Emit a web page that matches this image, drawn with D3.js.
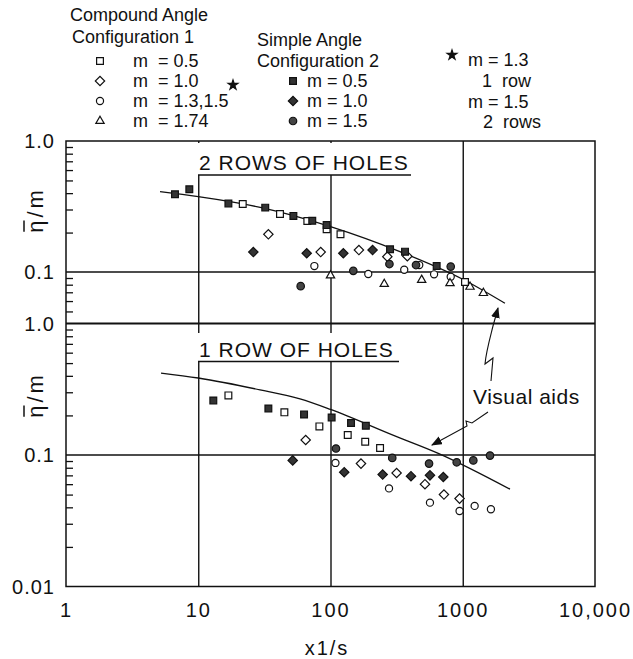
<!DOCTYPE html>
<html>
<head>
<meta charset="utf-8">
<script src="https://cdn.jsdelivr.net/npm/d3@7"></script>
<style>
  body { margin: 0; background: #fff; }
  svg text { font-family: "Liberation Sans", Arial, sans-serif; fill: #111; }
</style>
</head>
<body>
<div id="chart"></div>
<script>
// x axis
var xTicks = [1, 10, 100, 1000, 10000];
var xTickLabels = ["1", "10", "100", "1000", "10,000"];

// 2 rows of holes (upper panel)  [x1/s, eta/m]
var top_c1_m05 = [[21.7,0.330],[41.5,0.277],[66.8,0.245],[93.5,0.212],[119,0.194],[1040,0.084]];
var top_c1_m10 = [[33.9,0.194],[84.3,0.142],[164,0.147],[269,0.131],[381,0.132]];
var top_c1_m13 = [[75.5,0.111],[193,0.0966],[361,0.104],[469,0.113],[607,0.096],[811,0.092]];
var top_c1_m174 = [[100,0.094],[255,0.081],[489,0.087],[801,0.082],[1135,0.077],[1432,0.069]];
var top_c2_m05 = [[6.67,0.392],[8.56,0.428],[16.9,0.334],[32.1,0.310],[52.4,0.268],[72.8,0.246],[93.5,0.228],[282,0.149],[366,0.143],[635,0.111]];
var top_c2_m10 = [[26.1,0.142],[66.1,0.139],[125,0.139],[208,0.147]];
var top_c2_m15 = [[59.5,0.078],[148.7,0.102],[279,0.115],[443,0.113],[811,0.110]];
var top_aid = [[5.14,0.41],[10,0.376],[30,0.31],[100,0.222],[335,0.143],[1000,0.088],[2085,0.0577]];

// 1 row of holes (lower panel)
var bot_c1_m05 = [[16.9,0.284],[44.8,0.211],[82.4,0.165],[135,0.142],[183,0.126],[237,0.113]];
var bot_c1_m10 = [[64.9,0.130],[170,0.086],[316,0.073],[518,0.060],[721,0.050],[946,0.0466]];
var bot_c1_m13 = [[109,0.087],[277,0.0557],[565,0.0434],[946,0.0375],[1230,0.041],[1633,0.0387]];
var bot_c2_m05 = [[13.0,0.260],[33.9,0.226],[63.1,0.203],[102,0.193],[143,0.175],[185,0.167]];
var bot_c2_m10 = [[51.8,0.091],[127,0.074],[248,0.071],[406,0.069],[565,0.070],[713,0.068]];
var bot_c2_m15 = [[110,0.112],[293,0.095],[556,0.086],[900,0.088],[1202,0.091],[1607,0.099]];
var bot_aid = [[5.23,0.42],[10,0.385],[29.3,0.313],[58.8,0.267],[100,0.222],[300,0.141],[653,0.103],[2276,0.055]];

drawChart();

function drawChart() {
  var width = 633, height = 659;
  var pLeft = 66, pRight = 595, pTop = 141, pMid = 323.5, pBottom = 586.5;

  var svg = d3.select("#chart").append("svg")
      .attr("width", width)
      .attr("height", height);

  var x = d3.scaleLog().domain([1, 10000]).range([pLeft, pRight]);
  var yTop = d3.scaleLog().domain([0.1, 1]).range([272, pTop]);
  var yBot = d3.scaleLog().domain([0.01, 1]).range([pBottom, pMid]);

  //
  // symbols
  //
  var markers = {
    openSquare:   { type: d3.symbolSquare, size: 46, fill: "#fff", rot: 0 },
    openDiamond:  { type: d3.symbolSquare, size: 44, fill: "#fff", rot: 45 },
    openCircle:   { type: d3.symbolCircle, size: 40, fill: "#fff", rot: 0 },
    openTriangle: { type: d3.symbolTriangle, size: 30, fill: "#fff", rot: 0 },
    fillSquare:   { type: d3.symbolSquare, size: 46, fill: "#333", rot: 0 },
    fillDiamond:  { type: d3.symbolSquare, size: 44, fill: "#333", rot: 45 },
    fillCircle:   { type: d3.symbolCircle, size: 44, fill: "#444", rot: 0 },
    star:         { type: d3.symbolStar, size: 30, fill: "#111", rot: 0 }
  };

  function drawMarker(g, kind, cx, cy) {
    var m = markers[kind];
    g.append("path")
      .attr("d", d3.symbol().type(m.type).size(m.size)())
      .attr("transform", "translate(" + cx + "," + cy + ") rotate(" + m.rot + ")")
      .attr("fill", m.fill)
      .attr("stroke", "#111")
      .attr("stroke-width", 1.2);
  }

  //
  // grid, border, ticks
  //
  var grid = svg.append("g");

  // vertical grid lines through both panels
  grid.append("g")
    .attr("transform", "translate(0," + pBottom + ")")
    .call(d3.axisBottom(x).tickValues([10, 100, 1000]).tickSize(-(pBottom - pTop)).tickFormat(""))
    .call(function(g){ g.select(".domain").remove(); })
    .selectAll("line").attr("stroke", "#111").attr("stroke-width", 1.4);

  // horizontal 0.1 lines
  [[yTop, 0.1], [yBot, 0.1]].forEach(function(p) {
    grid.append("line")
      .attr("x1", pLeft).attr("x2", pRight)
      .attr("y1", p[0](p[1])).attr("y2", p[0](p[1]))
      .attr("stroke", "#111").attr("stroke-width", 1.4);
  });

  // border and panel divider
  grid.append("rect")
    .attr("x", pLeft).attr("y", pTop)
    .attr("width", pRight - pLeft).attr("height", pBottom - pTop)
    .attr("fill", "none").attr("stroke", "#111").attr("stroke-width", 1.5);
  grid.append("line")
    .attr("x1", pLeft).attr("x2", pRight).attr("y1", pMid).attr("y2", pMid)
    .attr("stroke", "#111").attr("stroke-width", 2);

  // minor ticks on the left edge, pointing inward
  var topMinor = [0.2,0.3,0.4,0.5,0.6,0.7,0.8,0.9,0.05,0.06,0.07,0.08,0.09];
  var botMinor = [0.2,0.3,0.4,0.5,0.6,0.7,0.8,0.9,0.02,0.03,0.04,0.05,0.06,0.07,0.08,0.09];
  [[yTop, topMinor], [yBot, botMinor]].forEach(function(p) {
    svg.append("g")
      .attr("transform", "translate(" + pLeft + ",0)")
      .call(d3.axisRight(p[0]).tickValues(p[1]).tickSize(7).tickFormat(""))
      .call(function(g){ g.select(".domain").remove(); })
      .selectAll("line").attr("stroke", "#111").attr("stroke-width", 1.3);
  });

  // y tick labels
  var yLab = svg.append("g").attr("font-size", 20).attr("text-anchor", "end");
  [[yTop, 1, "1.0"], [yTop, 0.1, "0.1"], [yBot, 1, "1.0"], [yBot, 0.1, "0.1"], [yBot, 0.01, "0.01"]].forEach(function(p) {
    yLab.append("text")
      .attr("x", 55).attr("y", p[0](p[1]))
      .attr("dy", "0.36em")
      .attr("letter-spacing", 1)
      .text(p[2]);
  });

  // x tick labels
  svg.append("g")
    .attr("transform", "translate(0," + pBottom + ")")
    .call(d3.axisBottom(x).tickValues(xTicks).tickSize(0).tickPadding(16)
          .tickFormat(function(d, i){ return xTickLabels[i]; }))
    .call(function(g){ g.select(".domain").remove(); })
    .selectAll("text")
    .attr("font-family", "Liberation Sans, Arial, sans-serif")
    .attr("font-size", 20)
    .attr("letter-spacing", 2)
    .attr("fill", "#111");

  // axis titles
  svg.append("text")
    .attr("x", 327).attr("y", 655)
    .attr("font-size", 20).attr("text-anchor", "middle")
    .attr("letter-spacing", 2)
    .text("x1/s");

  // eta-bar / m, rotated, with the bar drawn over the eta
  [210, 395].forEach(function(cy) {
    var g = svg.append("g").attr("transform", "translate(43," + cy + ") rotate(-90)");
    var t = g.append("text")
      .attr("font-size", 22).attr("text-anchor", "middle")
      .attr("letter-spacing", 3)
      .text("\u03B7/m");
    var ext = t.node().getExtentOfChar(0);
    g.append("line")
      .attr("x1", ext.x + 1).attr("x2", ext.x + ext.width - 3)
      .attr("y1", -19).attr("y2", -19)
      .attr("stroke", "#111").attr("stroke-width", 1.5);
  });

  //
  // panel titles with white background
  //
  function panelTitle(label, x0, yTopEdge, yLine, x1) {
    svg.append("rect")
      .attr("x", x0).attr("y", yTopEdge)
      .attr("width", x1 - x0).attr("height", yLine - yTopEdge)
      .attr("fill", "#fff");
    svg.append("text")
      .attr("x", x0 + 1).attr("y", yLine - 5)
      .attr("font-size", 21).attr("letter-spacing", 1)
      .text(label);
    svg.append("line")
      .attr("x1", x0).attr("x2", x1).attr("y1", yLine).attr("y2", yLine)
      .attr("stroke", "#111").attr("stroke-width", 1.4);
  }
  panelTitle("2 ROWS OF HOLES", 198, 143, 175, 411);
  panelTitle("1 ROW OF HOLES", 198, 333, 361.5, 399);

  //
  // visual aid curves
  //
  var plot = svg.append("g");
  [[top_aid, yTop], [bot_aid, yBot]].forEach(function(p) {
    var line = d3.line()
      .x(function(d){ return x(d[0]); })
      .y(function(d){ return p[1](d[1]); })
      .curve(d3.curveMonotoneX);
    plot.append("path")
      .attr("d", line(p[0]))
      .attr("fill", "none").attr("stroke", "#111").attr("stroke-width", 1.3);
  });

  //
  // data points
  //
  var series = [
    [top_c2_m10, "fillDiamond", yTop], [top_c1_m10, "openDiamond", yTop],
    [top_c1_m13, "openCircle", yTop], [top_c1_m174, "openTriangle", yTop],
    [top_c2_m15, "fillCircle", yTop],
    [top_c1_m05, "openSquare", yTop], [top_c2_m05, "fillSquare", yTop],
    [bot_c2_m10, "fillDiamond", yBot], [bot_c1_m10, "openDiamond", yBot],
    [bot_c1_m13, "openCircle", yBot], [bot_c2_m15, "fillCircle", yBot],
    [bot_c1_m05, "openSquare", yBot], [bot_c2_m05, "fillSquare", yBot]
  ];
  series.forEach(function(s) {
    s[0].forEach(function(d) {
      drawMarker(plot, s[1], x(d[0]), s[2](d[1]));
    });
  });

  //
  // "Visual aids" annotation
  //
  svg.append("text")
    .attr("x", 473).attr("y", 404)
    .attr("font-size", 21).attr("letter-spacing", 0.5)
    .text("Visual aids");

  svg.append("defs").append("marker")
    .attr("id", "arrow")
    .attr("markerWidth", 10).attr("markerHeight", 8)
    .attr("refX", 9).attr("refY", 4)
    .attr("orient", "auto")
    .append("path")
    .attr("d", "M0,0 L10,4 L0,8 Z")
    .attr("fill", "#111");

  svg.append("path")
    .attr("d", "M491,381 L493,358 L485,364 C486,352 490,338 493,326 L498,308")
    .attr("fill", "none").attr("stroke", "#111").attr("stroke-width", 1.1)
    .attr("marker-end", "url(#arrow)");
  svg.append("path")
    .attr("d", "M488,412 L472,423 L466,421 L467,426 L432,445")
    .attr("fill", "none").attr("stroke", "#111").attr("stroke-width", 1.1)
    .attr("marker-end", "url(#arrow)");

  //
  // legend
  //
  var leg = svg.append("g").attr("font-size", 18);
  function legText(str, tx, ty) {
    leg.append("text").attr("x", tx).attr("y", ty).attr("dy", "0.36em")
      .style("white-space", "pre").text(str);
  }
  legText("Compound Angle", 70, 15);
  legText("Configuration 1", 72, 37);
  var col1 = [["openSquare", "m  = 0.5"], ["openDiamond", "m  = 1.0"],
              ["openCircle", "m  = 1.3,1.5"], ["openTriangle", "m  = 1.74"]];
  col1.forEach(function(r, i) {
    drawMarker(leg, r[0], 100, 61 + i * 20);
    legText(r[1], 133, 61 + i * 20);
  });
  drawMarker(leg, "star", 233, 85);

  legText("Simple Angle", 257, 40);
  legText("Configuration 2", 257, 61);
  var col2 = [["fillSquare", "m = 0.5"], ["fillDiamond", "m = 1.0"], ["fillCircle", "m = 1.5"]];
  col2.forEach(function(r, i) {
    drawMarker(leg, r[0], 293, 81 + i * 20);
    legText(r[1], 307, 81 + i * 20);
  });

  drawMarker(leg, "star", 452, 55);
  legText("m = 1.3", 468, 60);
  legText("1  row", 482, 81);
  legText("m = 1.5", 468, 102);
  legText("2  rows", 483, 122);
}
</script>
</body>
</html>
